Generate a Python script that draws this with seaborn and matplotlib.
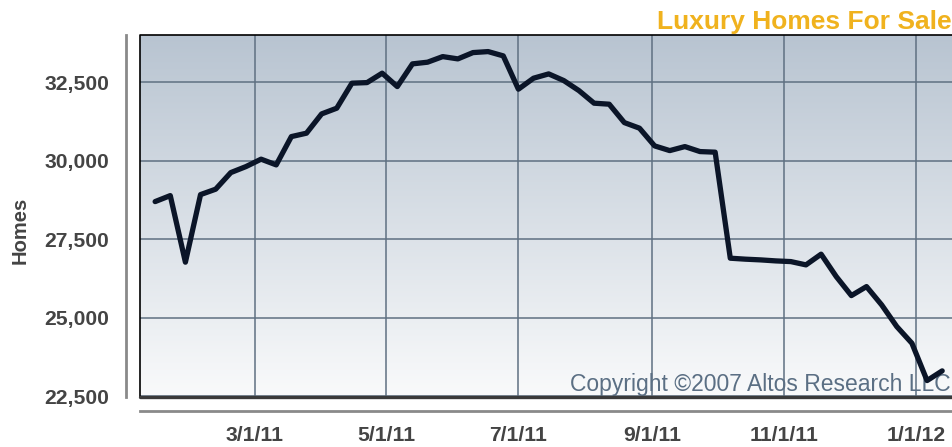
import numpy as np
import pandas as pd
import matplotlib
matplotlib.use("Agg")
import matplotlib.pyplot as plt
from matplotlib.colors import LinearSegmentedColormap
import seaborn as sns

# ============ Data ============
start_date = "2011-01-14"
homes = [28694, 28885, 26764, 28917, 29089, 29618, 29809, 30045, 29863, 30764,
         30873, 31487, 31669, 32465, 32484, 32784, 32357, 33080, 33134, 33312,
         33239, 33440, 33472, 33335, 32274, 32624, 32761, 32548, 32229, 31828,
         31796, 31210, 31032, 30468, 30318, 30446, 30287, 30268, 26891, 26860,
         26837, 26805, 26783, 26678, 27019, 26306, 25700, 25987, 25404, 24713,
         24182, 22993, 23302]
tick_dates = ["2011-03-01", "2011-05-01", "2011-07-01", "2011-09-01", "2011-11-01", "2012-01-01"]
tick_labels = ["3/1/11", "5/1/11", "7/1/11", "9/1/11", "11/1/11", "1/1/12"]
y_ticks = [22500, 25000, 27500, 30000, 32500]
y_labels = ["22,500", "25,000", "27,500", "30,000", "32,500"]

df = pd.DataFrame({
    "date": pd.date_range(start_date, periods=len(homes), freq="7D"),
    "homes": homes,
})

# ============ Style ============
sns.set_style("white")
plt.rcParams['font.family'] = ['Liberation Sans', 'DejaVu Sans']

fig = plt.figure(figsize=(9.53, 4.47), dpi=100)
ax = fig.add_axes([140 / 953, 1 - 397 / 447, 813 / 953, 362 / 447])

# gradient background
cmap = LinearSegmentedColormap.from_list("bg", ["#f9fafb", "#b8c4d1"])
ax.imshow(np.linspace(0, 1, 256).reshape(-1, 1), cmap=cmap, origin="lower",
          extent=[0, 1, 0, 1], transform=ax.transAxes, aspect="auto", zorder=-1)

sns.lineplot(data=df, x="date", y="homes", ax=ax, color="#0b1528", linewidth=3.8,
             zorder=3)

ax.set_xlim(pd.Timestamp("2011-01-07"), pd.Timestamp("2012-01-18"))
ax.set_ylim(22470, 34000)

ax.set_xticks(pd.to_datetime(tick_dates))
ax.set_xticklabels(tick_labels)
ax.set_yticks(y_ticks)
ax.set_yticklabels(y_labels)

ax.grid(True, color="#5f7082", linewidth=1.1)
ax.set_axisbelow(True)

# ============ Spines / frame ============
for side in ["left", "bottom"]:
    ax.spines[side].set_position(("outward", 10))
    ax.spines[side].set_color("#8a8a8a")
    ax.spines[side].set_linewidth(2)
ax.spines["top"].set_visible(False)
ax.spines["right"].set_visible(False)

ax.plot([0, 0, 1], [0, 1, 1], transform=ax.transAxes, color="black",
        linewidth=1.2, clip_on=False, zorder=4)
ax.plot([0, 1], [0, 0], transform=ax.transAxes, color="#3a3a3a",
        linewidth=2.4, clip_on=False, zorder=4)

ax.tick_params(axis="both", direction="out", length=5, width=1.5, color="#8a8a8a",
               labelsize=15.2, labelcolor="#444444")
ax.tick_params(axis="x", pad=6)
ax.tick_params(axis="y", pad=7)
for lbl in ax.get_xticklabels() + ax.get_yticklabels():
    lbl.set_fontweight("bold")

ax.set_xlabel("")
ax.set_ylabel("")
fig.text(20 / 953, 1 - 230 / 447, "Homes", rotation=90, ha="center", va="center",
         fontsize=14.5, fontweight="bold", color="#444444")

# ============ Texts ============
fig.text(0.999, 1 - 29 / 447, "Luxury Homes For Sale", ha="right", va="baseline",
         fontsize=19, fontweight="bold", color="#f0b21e")
ax.text(0.9965, 0.016, "Copyright \u00a92007 Altos Research LLC", transform=ax.transAxes,
        ha="right", va="baseline", fontsize=16.5, color="#5b6f84", zorder=2)

fig.savefig("out.png", dpi=100)
